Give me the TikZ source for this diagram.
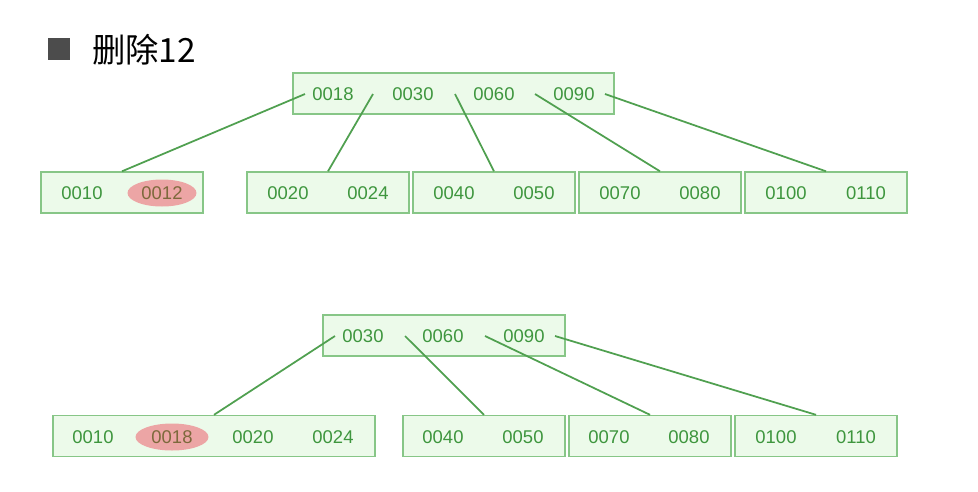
\documentclass[tikz,border=0pt]{standalone}
\usepackage{fontspec}
\setmainfont{Liberation Sans}
\newfontfamily\cjk{Noto Sans CJK SC}
\definecolor{boxline}{RGB}{135,198,135}
\definecolor{boxfill}{RGB}{236,250,234}
\definecolor{keytext}{RGB}{62,150,62}
\definecolor{edgecol}{RGB}{80,160,80}
\definecolor{delfill}{RGB}{236,165,165}
\definecolor{deltext}{RGB}{125,105,60}
\tikzset{
  box/.style={draw=boxline, fill=boxfill, line width=0.8pt, minimum height=0.82cm, inner sep=0pt},
  key/.style={text=keytext, font=\fontsize{10.5}{12}\selectfont, inner sep=1pt},
  delkey/.style={key, text=deltext, fill=delfill, ellipse, minimum width=1.38cm, minimum height=0.54cm},
  edge/.style={draw=edgecol, line width=1pt}
}
\usetikzlibrary{shapes.geometric}
\begin{document}
\begin{tikzpicture}[x=0.02cm, y=-0.02cm]
  \useasboundingbox (0,0) rectangle (978,491);

  % title
  \fill[black!70] (48,38) rectangle (70,60);
  \node[anchor=west, font=\cjk\fontsize{19}{22}\selectfont] (title) at (86,50) {删除12};

  % ---- before: root
  \node[box, minimum width=6.42cm] (r1) at (453.5,93.5) {};
  \node[key] (r1a) at (333,94) {0018};
  \node[key] (r1b) at (413,94) {0030};
  \node[key] (r1c) at (494,94) {0060};
  \node[key] (r1d) at (574,94) {0090};

  % leaves
  \node[box, minimum width=3.24cm] (l1) at (122,192.5) {};
  \node[box, minimum width=3.24cm] (l2) at (328,192.5) {};
  \node[box, minimum width=3.24cm] (l3) at (494,192.5) {};
  \node[box, minimum width=3.24cm] (l4) at (660,192.5) {};
  \node[box, minimum width=3.24cm] (l5) at (826,192.5) {};
  \node[key] (k10) at (82,193) {0010};
  \node[delkey] (k12) at (162,193) {0012};
  \node[key] (k20) at (288,193) {0020};
  \node[key] (k24) at (368,193) {0024};
  \node[key] (k40) at (454,193) {0040};
  \node[key] (k50) at (534,193) {0050};
  \node[key] (k70) at (620,193) {0070};
  \node[key] (k80) at (700,193) {0080};
  \node[key] (k100) at (786,193) {0100};
  \node[key] (k110) at (866,193) {0110};

  % pointers
  \coordinate (p1) at (305,94);
  \coordinate (p2) at (373,94);
  \coordinate (p3) at (455,94);
  \coordinate (p4) at (535,94);
  \coordinate (p5) at (605,94);
  \draw[edge] (p1) -- (l1.north);
  \draw[edge] (p2) -- (l2.north);
  \draw[edge] (p3) -- (l3.north);
  \draw[edge] (p4) -- (l4.north);
  \draw[edge] (p5) -- (l5.north);

  % ---- after: root
  \node[box, minimum width=4.84cm] (r2) at (444,335.5) {};
  \node[key] (r2a) at (363,336) {0030};
  \node[key] (r2b) at (443,336) {0060};
  \node[key] (r2c) at (524,336) {0090};

  % leaves
  \node[box, minimum width=6.44cm] (m1) at (214,436) {};
  \node[box, minimum width=3.24cm] (m2) at (484,436) {};
  \node[box, minimum width=3.24cm] (m3) at (650,436) {};
  \node[box, minimum width=3.24cm] (m4) at (816,436) {};
  \node[key] (n10) at (93,437) {0010};
  \node[delkey, minimum width=1.46cm] (n18) at (172,437) {0018};
  \node[key] (n20) at (253,437) {0020};
  \node[key] (n24) at (333,437) {0024};
  \node[key] (n40) at (443,437) {0040};
  \node[key] (n50) at (523,437) {0050};
  \node[key] (n70) at (609,437) {0070};
  \node[key] (n80) at (689,437) {0080};
  \node[key] (n100) at (776,437) {0100};
  \node[key] (n110) at (856,437) {0110};

  % pointers
  \coordinate (q1) at (335,336);
  \coordinate (q2) at (405,336);
  \coordinate (q3) at (485,336);
  \coordinate (q4) at (555,336);
  \draw[edge] (q1) -- (m1.north);
  \draw[edge] (q2) -- (m2.north);
  \draw[edge] (q3) -- (m3.north);
  \draw[edge] (q4) -- (m4.north);
\end{tikzpicture}
\end{document}
